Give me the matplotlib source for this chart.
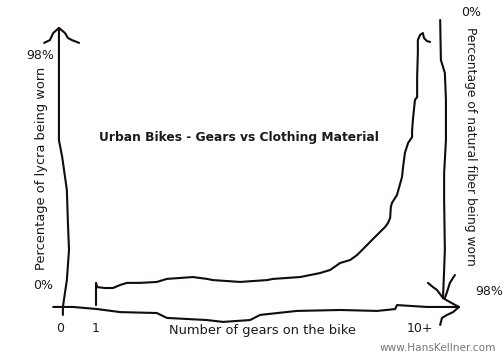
import matplotlib
matplotlib.use("Agg")
import matplotlib.pyplot as plt

# ---- data (gears on x, percentage of lycra on y) ----
curve_gears = [1.0, 1.0, 1.03, 1.25, 1.47, 1.67, 1.86, 2.22, 2.69, 2.97, 3.69, 4.08, 4.25,
               5.0, 5.75, 5.92, 6.67, 7.22, 7.5, 7.78, 8.06, 8.25, 8.53, 8.61, 8.89, 9.03,
               9.11, 9.17, 9.19, 9.22, 9.36, 9.5, 9.53, 9.58, 9.67, 9.78, 9.78, 9.81, 9.86,
               9.92, 9.92, 9.94, 9.94, 10.0, 10.08, 10.11, 10.19, 10.28]
curve_lycra = [-8.6, 0.9, -0.9, -1.3, -1.3, 0.0, 0.9, 0.9, 1.3, 2.6, 3.4, 2.6, 2.1,
               1.3, 2.1, 2.6, 3.4, 5.1, 6.4, 9.4, 10.7, 12.8, 17.1, 18.4, 22.7, 24.8,
               26.5, 28.7, 33.4, 35.1, 38.5, 46.2, 50.5, 56.5, 60.8, 63.3, 66.3, 71.9, 79.2,
               80.4, 89.0, 99.3, 104.8, 107.0, 107.8, 105.7, 104.4, 104.0]

# hand-drawn axes
left_axis_x = [-0.03, -0.03, 0.06, 0.19, 0.22, 0.25, 0.19, 0.08, 0.08]
left_axis_y = [110.0, 62.0, 54.8, 40.7, 26.5, 15.0, 2.1, -9.4, -12.8]
left_head_x = [-0.44, -0.28, -0.19, -0.03, 0.14, 0.22, 0.33, 0.53]
left_head_y = [103.6, 104.8, 107.8, 110.0, 107.8, 105.7, 104.8, 103.6]

bottom_axis_x = [-0.19, 0.36, 1.03, 1.67, 2.69, 2.97, 4.08, 4.53, 5.28, 5.56, 6.58,
                 7.78, 8.81, 9.31, 9.36, 10.19, 11.08]
bottom_axis_y = [-9.4, -9.4, -10.3, -11.6, -12.0, -14.1, -15.0, -15.8, -15.0, -12.8,
                 -11.1, -10.7, -11.1, -10.3, -8.6, -9.4, -9.4]
bottom_head_up_x = [11.08, 10.83, 10.64]
bottom_head_up_y = [-9.4, -7.3, -5.6]
bottom_head_low_x = [11.08, 10.92, 10.75, 10.61, 10.56]
bottom_head_low_y = [-9.4, -11.6, -12.8, -14.1, -17.1]

right_axis_x = [10.56, 10.58, 10.69, 10.72, 10.72, 10.67, 10.67, 10.69, 10.67, 10.64]
right_axis_y = [113.4, 96.3, 90.7, 79.2, 62.0, 47.9, 36.4, 15.0, 6.4, -5.1]
right_head_l_x = [10.22, 10.36, 10.47, 10.64]
right_head_l_y = [0.9, -0.9, -2.1, -5.6]
right_head_r_x = [10.97, 10.83, 10.75, 10.69]
right_head_r_y = [4.3, 0.9, -3.0, -5.6]

x_ticks = [0, 1, 10]
x_tick_labels = ["0", "1", "10+"]

title = "Urban Bikes - Gears vs Clothing Material"
xlabel = "Number of gears on the bike"
ylabel_left = "Percentage of lycra being worn"
ylabel_right = "Percentage of natural fiber being worn"
credit = "www.HansKellner.com"

# ---- drawing ----
fig = plt.figure(figsize=(7, 5), dpi=72)
ax = fig.add_axes([0, 0, 1, 1])
ax.set_xlim(-1.667, 12.333)
ax.set_ylim(-32.1, 121.95)
ax.axis("off")

ink = "#140c0c"
lw = 2.1
kw = dict(color=ink, lw=lw, solid_capstyle="round", solid_joinstyle="round")
ax.plot(curve_gears, curve_lycra, **kw)
ax.plot(left_axis_x, left_axis_y, **kw)
ax.plot(left_head_x, left_head_y, **kw)
ax.plot(bottom_axis_x, bottom_axis_y, **kw)
ax.plot(bottom_head_up_x, bottom_head_up_y, **kw)
ax.plot(bottom_head_low_x, bottom_head_low_y, **kw)
ax.plot(right_axis_x, right_axis_y, **kw)
ax.plot(right_head_l_x, right_head_l_y, **kw)
ax.plot(right_head_r_x, right_head_r_y, **kw)

fs = 12.5
tc = "#1a1a1a"
for xt, lab in zip(x_ticks, x_tick_labels):
    ax.text(xt, -18.6, lab, ha="center", va="center", fontsize=fs, color=tc)

ax.text(-0.56, 98, "98%", ha="center", va="center", fontsize=fs, color=tc)
ax.text(-0.47, -0.4, "0%", ha="center", va="center", fontsize=fs, color=tc)
ax.text(11.42, 116.4, "0%", ha="center", va="center", fontsize=fs, color=tc)
ax.text(11.92, -3.0, "98%", ha="center", va="center", fontsize=fs, color=tc)

fig.text(0.520, 0.081, xlabel, ha="center", va="center", fontsize=13, color=tc)
fig.text(0.083, 0.531, ylabel_left, ha="center", va="center", rotation=90,
         fontsize=13, color=tc)
fig.text(0.933, 0.592, ylabel_right, ha="center", va="center", rotation=-90,
         fontsize=12.4, color=tc)
fig.text(0.474, 0.619, title, ha="center", va="center", fontsize=12.3,
         fontweight="bold", color=tc)
fig.text(0.869, 0.033, credit, ha="center", va="center", fontsize=10.5, color="#777777")

fig.savefig("out.png", dpi=72, facecolor="white")
